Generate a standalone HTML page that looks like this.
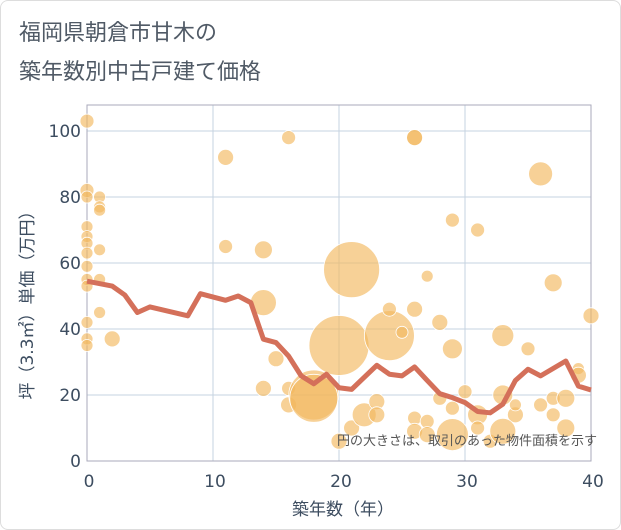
<!DOCTYPE html>
<html><head><meta charset="utf-8"><style>
body{margin:0;background:#fff;}
#wrap{position:relative;width:619px;height:528px;border:1px solid #ddd;border-radius:8px;overflow:hidden;background:#fff;font-family:"DejaVu Sans","Noto Sans CJK JP",sans-serif;}
#title{position:absolute;left:18px;top:13px;font-size:22px;line-height:39px;color:#505a66;font-family:"DejaVu Sans","Noto Sans CJK JP",sans-serif;}
svg{position:absolute;left:0;top:0;}
</style></head><body>
<div id="wrap">
<div id="title">福岡県朝倉市甘木の<br>築年数別中古戸建て価格</div>
<svg id="chart" width="621" height="530"></svg>
</div>
<script>
const xTicks=[0,10,20,30,40];
const yTicks=[0,20,40,60,80,100];
const lineYears=[0,2,3,4,5,8,9,11,12,13,14,15,16,17,18,19,20,21,23,24,25,26,27,28,29,30,31,32,33,34,35,36,38,39,40];
const linePrices=[54.5,53,50.3,45,46.7,44,50.7,48.7,50,48,36.9,35.9,31.8,25.8,23.4,26.3,22.2,21.7,29,26.3,25.8,28.5,24.4,20.4,19.2,17.7,15,14.6,17.2,24.4,27.8,25.8,30.3,22.7,21.5];
const bubbleYears=[0,0,0,0,0,0,0,0,0,0,0,0,0,1,1,1,1,1,1,2,11,11,16,26,14,14,15,14,16,16,18,18,20,21,24,24,25,26,26,27,28,29,29,31,33,35,36,37,40,20,21,22,23,23,26,26,27,27,29,28,29,30,31,31,33,34,34,32,33,36,37,37,38,38,39,39];
const bubblePrices=[103,82,80,71,68,66,63,59,55,53,42,37,35,80,77,76,64,55,45,37,92,65,98,98,64,48,31,22,22,17,20,19,35,58,38,46,39,46,98,56,42,73,34,70,38,34,87,54,44,6,10,14,18,14,13,9,12,8,8,19,16,21,14,10,20,14,17,6,9,17,14,19,19,10,28,26];
const bubbleSizes=[7,7,6,6,6,6,6,6,6,6,6,6,6,6,6,6,6,6,6,8,8,7,7,8,9,13,8,8,7,8,25,24,30,28,25,7,6,8,8,6,8,7,10,7,11,7,12,9,8,8,8,12,8,8,7,8,7,8,16,7,7,7,10,7,10,8,6,7,13,7,7,7,9,9,6,8];
const NS='http://www.w3.org/2000/svg';
const svg=document.getElementById('chart');
const X0=86,X1=590,Y0=460,Y1=104;
const TXT='#3d4d60';
const xs=v=>X0+(v/40)*(X1-X0);
const ys=v=>Y0-v*3.3;
function mk(t,a){const e=document.createElementNS(NS,t);for(const k in a)e.setAttribute(k,a[k]);svg.appendChild(e);return e;}
xTicks.forEach(t=>{
 const g=mk('line',{x1:xs(t),x2:xs(t),y1:Y1,y2:Y0,stroke:'#c5d3e0','stroke-width':1});
 
 
 const l=mk('text',{x:xs(t)+2,y:486,'text-anchor':'middle','font-size':17,fill:TXT});
 l.textContent=t;
 
 
});
yTicks.forEach(t=>{
 const g=mk('line',{x1:X0,x2:X1,y1:ys(t),y2:ys(t),stroke:'#c5d3e0','stroke-width':1});
 
 
 const l=mk('text',{x:80,y:ys(t)+6,'text-anchor':'end','font-size':17,fill:TXT});
 l.textContent=t;
 
 
});
const fr=mk('rect',{x:X0,y:Y1,width:X1-X0,height:Y0-Y1,fill:'none',stroke:'#aab',"stroke-width":1});


bubbleYears.forEach((yr,i)=>{
 const c=mk('circle',{cx:xs(yr),cy:ys(bubblePrices[i]),r:bubbleSizes[i],fill:'#f2b95f','fill-opacity':0.65,stroke:'#fff','stroke-width':0.8});
 
 
});
const p=mk('polyline',{points:lineYears.map((y,i)=>xs(y)+','+ys(linePrices[i])).join(' '),fill:'none',stroke:'#d4705a','stroke-width':5,'stroke-linejoin':'round'});


const n=mk('text',{x:596,y:444,'text-anchor':'end','font-size':13,fill:'#555'});
n.textContent='円の大きさは、取引のあった物件面積を示す';


const xt=mk('text',{x:342,y:514,'text-anchor':'middle','font-size':17,fill:TXT});
xt.textContent='築年数（年）';


const yt=mk('text',{x:0,y:0,'text-anchor':'middle','font-size':17,fill:TXT,transform:'translate(32,300) rotate(-90)'});
yt.textContent='坪（3.3㎡）単価（万円）';


</script>
</body></html>
